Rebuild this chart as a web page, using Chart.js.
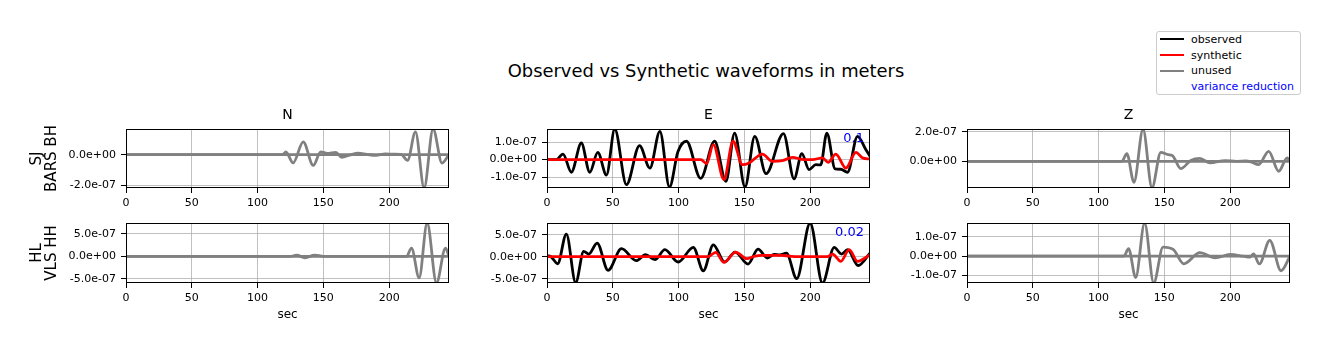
<!DOCTYPE html>
<html>
<head>
<meta charset="utf-8">
<script src="https://cdn.jsdelivr.net/npm/chart.js@4.4.1/dist/chart.umd.min.js"></script>
<style>
  body { margin: 0; background: #fff; font-family: 'DejaVu Sans', sans-serif; }
  #fig { position: relative; width: 1329px; height: 351px; overflow: hidden; background: #fff; }
  #fig canvas { position: absolute; }
  #suptitle { position: absolute; left: 406px; top: 61px; width: 600px; text-align: center;
              font-size: 17.9px; line-height: 20px; color: #000; white-space: nowrap; }
  #legend { position: absolute; left: 1156px; top: 31px; width: 143px; height: 62px;
            border: 1px solid #cccccc; border-radius: 3px; background: rgba(255,255,255,0.8); }
  .row { position: absolute; left: 3px; height: 13px; line-height: 13px; font-size: 11px; white-space: nowrap; }
  .row .ln { position: absolute; left: 0; top: 5.5px; width: 24px; height: 2px; }
  .row .tx { position: absolute; left: 31px; top: 0; }
</style>
</head>
<body>
<div id="fig">
  <div id="suptitle">Observed vs Synthetic waveforms in meters</div>
  <div id="legend"></div>
</div>
<script>
// amplitudes are in units of 1e-7 m, time in sec
const UNIT = 1e-7;
const xTicks = [0, 50, 100, 150, 200];
const xMax = 245.5;

const stations = [['SJ', 'BARS BH'], ['HL', 'VLS HH']];
const components = ['N', 'E', 'Z'];

// SJ BARS BH - N (unused)
const barsN_t   = [0, 119, 121.5, 127, 134.7, 142.3, 148, 153, 159.5, 164, 170, 176.5, 183, 190, 197, 204, 209, 214, 220, 226.6, 233.4, 240.2, 245.5];
const barsN_obs = [0, 0, 0.18, -0.54, 0.83, -0.7, 0.18, 0.08, 0.15, -0.17, -0.03, 0.1, 0.02, -0.05, 0.05, 0.03, 0.02, -0.37, 1.48, -2.15, 1.67, -0.55, 0];
const barsN_ylim = [-2.17, 1.67];
const barsN_yticks = [-2, 0];

// SJ BARS BH - E (used)
const barsE_t   = [0, 7, 12.2, 18.5, 26.1, 32.5, 38.6, 45.2, 51.5, 60.4, 70.3, 78.2, 85.8, 93.1, 99.5, 106, 116.8, 127.4, 136, 142.6, 150.5, 157.9, 166.5, 179.7, 187.8, 193.7, 199.2, 204.3, 208, 212.7, 219, 223.3, 228.4, 236, 242.4, 245.5];
const barsE_obs = [0, 0, 0.32, -0.72, 0.95, -0.72, 0.42, -0.88, 1.75, -1.43, 0.8, -0.48, 1.62, -1.56, 0.45, 1.05, -1.07, 1.05, -1.24, 1.52, -1.56, 1.33, -0.8, 1.49, -1.1, 0.34, -0.57, -0.29, -0.3, 1.52, -0.53, -0.55, -0.72, 1.33, 0.57, 0.19];
const barsE_synT = [0, 117, 121.3, 126.4, 134.5, 141.4, 148.5, 153.6, 163.7, 171.3, 178.9, 186.5, 195.4, 201.8, 209.4, 213.7, 219.5, 227.2, 234.8, 239.8, 245.5];
const barsE_syn  = [0, 0, -0.23, 0.86, -1.14, 1.05, -0.29, -0.19, 0.32, -0.1, -0.06, 0.13, 0, 0, 0.1, -0.15, 0.32, -0.48, 0.42, 0.1, 0.04];
const barsE_ylim = [-1.62, 1.75];
const barsE_yticks = [-1, 0, 1];
const barsE_vr = '0.1';

// SJ BARS BH - Z (unused)
const barsZ_t   = [0, 117.7, 121.5, 126.9, 133.8, 140.6, 147.3, 152.9, 156, 162.5, 170, 177, 184.7, 196.2, 205, 212, 216, 221.7, 229.3, 236.9, 243.3, 245.5];
const barsZ_obs = [0, 0, 0.52, -1.43, 2.18, -1.8, 0.61, 0.45, 0.4, -0.5, 0.05, 0.2, -0.11, 0.05, 0, 0.02, -0.05, -0.23, 0.68, -0.68, 0.23, 0];
const barsZ_ylim = [-1.82, 2.2];
const barsZ_yticks = [0, 2];

// HL VLS HH - N (unused)
const vlsN_t   = [0, 125, 129.6, 136, 143.5, 150, 213.2, 217, 222.8, 228.9, 236, 242.8, 245.5];
const vlsN_obs = [0, 0, 0.3, -0.3, 0.3, 0, 0, 1.84, -4.78, 7.4, -5.9, 1.84, 0];
const vlsN_ylim = [-5.9, 7.4];
const vlsN_yticks = [-5, 0, 5];

// HL VLS HH - E (used)
const vlsE_t   = [0, 3, 8.1, 14.7, 21.8, 27.9, 31.7, 38.1, 46.4, 56.6, 67.8, 74.9, 82, 89.6, 99.7, 111.2, 118.8, 126.4, 135, 142.9, 152.8, 160.4, 167.5, 172.6, 177, 182, 189.8, 200, 209.4, 218.3, 223.9, 228.4, 236.5, 245.5];
const vlsE_obs = [0.2, 0, -1.6, 5.15, -5.9, 1.21, 0.6, 3.1, -3.1, 1.82, -0.9, 0.45, -0.68, 1.6, -1.21, 2.1, -3.2, 2.7, -1.2, 1.06, -1.67, 1.74, -0.3, 0.5, 0.4, 0.8, -5.0, 7.66, -5.98, 2.1, 0.6, 1.6, -2.0, 0.8];
const vlsE_synT = [0, 122.3, 128.2, 134.5, 143.4, 151.8, 157.4, 163, 170, 178, 184, 190, 213.2, 217, 223.3, 229.7, 236, 245.5];
const vlsE_syn  = [0, 0, 1.0, -1.3, 1.06, -0.45, 0.07, 0.3, 0.3, 0.3, 0.15, 0, 0, 0.6, -1.06, 1.6, -1.06, 0.45];
const vlsE_ylim = [-5.98, 7.66];
const vlsE_yticks = [-5, 0, 5];
const vlsE_vr = '0.02';

// HL VLS HH - Z (unused)
const vlsZ_t   = [0, 119.2, 122.8, 128.2, 135, 141.9, 149, 156.7, 164.8, 177, 188.5, 200, 210, 215, 217.8, 222.2, 230.1, 238.7, 245.5];
const vlsZ_obs = [0, 0, 0.39, -1.1, 1.7, -1.38, 0.47, 0.35, -0.39, 0.18, -0.09, 0.09, 0, -0.05, 0.12, -0.4, 0.82, -0.75, 0];
const vlsZ_ylim = [-1.38, 1.71];
const vlsZ_yticks = [-1, 0, 1];

// synthetic of unused channels stays on zero
const flat_t = [0, 245.5];
const flat_syn = [0, 0];

const legendItems = [['observed', '#000000'], ['synthetic', '#ff0000'], ['unused', '#808080']];
const legendNote = 'variance reduction';

const FONT = "'DejaVu Sans', sans-serif";
Chart.defaults.font.family = FONT;
Chart.defaults.color = '#000';

function pts(t, v) {
  return t.map((x, i) => ({ x: x, y: v[i] }));
}

// like matplotlib '%.1e'
function fmtE(v) {
  const s = (v * UNIT).toExponential(1);
  const parts = s.split('e');
  const exp = parts[1];
  return parts[0] + 'e' + exp[0] + exp.slice(1).padStart(2, '0');
}

// axes frame + variance reduction number
const framePlugin = {
  id: 'frame',
  afterDraw(chart, args, opts) {
    const ctx = chart.ctx;
    const a = chart.chartArea;
    ctx.save();
    ctx.strokeStyle = '#000';
    ctx.lineWidth = 1;
    ctx.strokeRect(a.left + 0.5, a.top + 0.5, a.right - a.left - 1, a.bottom - a.top - 1);
    if (opts.vr) {
      ctx.fillStyle = '#0000ff';
      ctx.font = '13px ' + FONT;
      ctx.textAlign = 'right';
      ctx.textBaseline = 'middle';
      ctx.fillText(opts.vr, a.right - 6, a.top + 0.16 * (a.bottom - a.top));
    }
    ctx.restore();
  }
};

const fig = document.getElementById('fig');
const PW = 323;
const colLeft = [126, 547, 967];
const rowTop = [129, 223];
const rowH = [59, 60];

const panels = [
  { r: 0, c: 0, t: barsN_t, obs: barsN_obs, ylim: barsN_ylim, yticks: barsN_yticks },
  { r: 0, c: 1, t: barsE_t, obs: barsE_obs, synT: barsE_synT, syn: barsE_syn, ylim: barsE_ylim, yticks: barsE_yticks, vr: barsE_vr },
  { r: 0, c: 2, t: barsZ_t, obs: barsZ_obs, ylim: barsZ_ylim, yticks: barsZ_yticks },
  { r: 1, c: 0, t: vlsN_t, obs: vlsN_obs, ylim: vlsN_ylim, yticks: vlsN_yticks },
  { r: 1, c: 1, t: vlsE_t, obs: vlsE_obs, synT: vlsE_synT, syn: vlsE_syn, ylim: vlsE_ylim, yticks: vlsE_yticks, vr: vlsE_vr },
  { r: 1, c: 2, t: vlsZ_t, obs: vlsZ_obs, ylim: vlsZ_ylim, yticks: vlsZ_yticks }
];

panels.forEach(p => {
  const used = !!p.syn;
  const h = rowH[p.r];
  const canvas = document.createElement('canvas');
  canvas.width = 100 + PW + 8;
  canvas.height = 30 + h + 40;
  canvas.style.left = (colLeft[p.c] - 100) + 'px';
  canvas.style.top = (rowTop[p.r] - 30) + 'px';
  fig.appendChild(canvas);

  // first dataset is drawn on top
  const datasets = [
    { label: 'synthetic', data: used ? pts(p.synT, p.syn) : pts(flat_t, flat_syn), borderColor: used ? '#ff0000' : '#808080' },
    { label: 'observed', data: pts(p.t, p.obs), borderColor: used ? '#000000' : '#808080' }
  ];

  const tickFont = { family: FONT, size: 11 };
  const grid = { color: '#b0b0b0', lineWidth: 0.8, tickLength: 5, tickColor: '#000', tickWidth: 1 };

  new Chart(canvas, {
    type: 'line',
    data: { datasets: datasets },
    options: {
      responsive: false,
      animation: false,
      devicePixelRatio: 1,
      layout: { padding: { top: p.r === 0 ? 0 : 30, right: 8, left: 0, bottom: 0 } },
      elements: {
        point: { radius: 0 },
        line: { borderWidth: 2.8, cubicInterpolationMode: 'monotone', fill: false }
      },
      datasets: { line: { clip: 0 } },
      plugins: {
        legend: { display: false },
        tooltip: { enabled: false },
        title: {
          display: p.r === 0,
          text: components[p.c],
          fullSize: false,
          color: '#000',
          font: { family: FONT, size: 14, weight: 'normal' },
          padding: { top: 8, bottom: 5.2 }
        },
        frame: { vr: p.vr }
      },
      scales: {
        x: {
          type: 'linear',
          min: 0,
          max: xMax,
          afterBuildTicks: s => { s.ticks = xTicks.map(v => ({ value: v })); },
          afterFit: s => { s.height = 40; },
          ticks: { autoSkip: false, maxRotation: 0, padding: 4, color: '#000', font: tickFont, callback: v => String(v) },
          grid: grid,
          border: { display: false },
          title: {
            display: p.r === 1,
            text: 'sec',
            color: '#000',
            font: { family: FONT, size: 12 },
            padding: { top: 0, bottom: 1 }
          }
        },
        y: {
          type: 'linear',
          min: p.ylim[0],
          max: p.ylim[1],
          afterBuildTicks: s => { s.ticks = p.yticks.map(v => ({ value: v })); },
          afterFit: s => { s.width = 100; },
          ticks: { autoSkip: false, padding: 5, color: '#000', font: tickFont, callback: v => fmtE(v) },
          grid: grid,
          border: { display: false },
          title: {
            display: p.c === 0,
            text: stations[p.r],
            color: '#000',
            font: { family: FONT, size: 15, lineHeight: 1.0 },
            padding: { top: 4, bottom: 0 }
          }
        }
      }
    },
    plugins: [framePlugin]
  });
});

// legend
const legend = document.getElementById('legend');
const rowCenters = [7.3, 23, 38.7, 54.5];
legendItems.forEach((item, i) => {
  const row = document.createElement('div');
  row.className = 'row';
  row.style.top = (rowCenters[i] - 6.5) + 'px';
  row.innerHTML = '<span class="ln" style="background:' + item[1] + '"></span><span class="tx">' + item[0] + '</span>';
  legend.appendChild(row);
});
const note = document.createElement('div');
note.className = 'row';
note.style.top = (rowCenters[3] - 6.5) + 'px';
note.innerHTML = '<span class="tx" style="color:#0000ff">' + legendNote + '</span>';
legend.appendChild(note);
</script>
</body>
</html>
